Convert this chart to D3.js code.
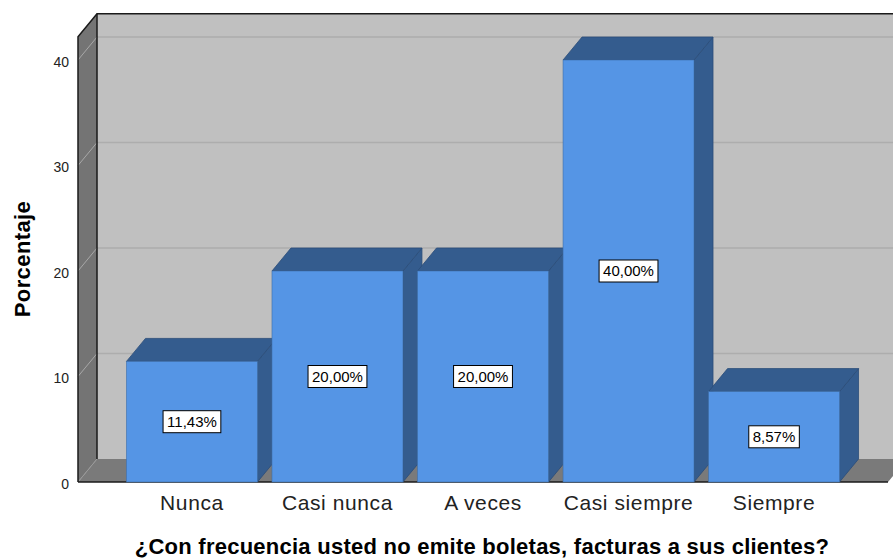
<!DOCTYPE html>
<html>
<head>
<meta charset="utf-8">
<script src="https://cdn.jsdelivr.net/npm/d3@7"></script>
<style>
  body { margin: 0; background: #fff; }
  svg { display: block; font-family: "Liberation Sans", Arial, sans-serif; }
</style>
</head>
<body>
<div id="chart"></div>
<script>
const categories = ['Nunca', 'Casi nunca', 'A veces', 'Casi siempre', 'Siempre'];
const porcentajes = [11.43, 20.00, 20.00, 40.00, 8.57];
const etiquetas = ['11,43%', '20,00%', '20,00%', '40,00%', '8,57%'];
const yTicks = [0, 10, 20, 30, 40];
const yMax = 42.2;
const xTitle = '¿Con frecuencia usted no emite boletas, facturas a sus clientes?';
const yTitle = 'Porcentaje';

const width = 893, height = 559;
const dx = 19, dy = -23; // 3D depth offset

const svg = d3.select('#chart').append('svg')
  .attr('width', width)
  .attr('height', height);

const x = d3.scaleBand()
  .domain(categories)
  .range([78, 888])
  .paddingInner(0.1)
  .paddingOuter(0.333);

const y = d3.scaleLinear()
  .domain([0, 40])
  .range([482, 60]);

const xLeft = x.range()[0], xRight = x.range()[1];
const yBase = y(0), yTop = y(yMax);

// back wall
svg.append('rect')
  .attr('x', xLeft + dx).attr('y', yTop + dy)
  .attr('width', xRight - xLeft).attr('height', yBase - yTop)
  .attr('fill', '#c0c0c0');

// left wall
svg.append('path')
  .attr('d', `M${xLeft},${yTop} L${xLeft + dx},${yTop + dy} L${xLeft + dx},${yBase + dy} L${xLeft},${yBase} Z`)
  .attr('fill', '#747474');

// floor
svg.append('path')
  .attr('d', `M${xLeft},${yBase} L${xLeft + dx},${yBase + dy} L${xRight + dx},${yBase + dy} L${xRight},${yBase} Z`)
  .attr('fill', '#7a7a7a');

// gridlines
const grid = yTicks.filter(d => d > 0);
svg.selectAll('.grid-back')
  .data(grid)
  .enter().append('line')
  .attr('x1', xLeft + dx).attr('x2', xRight + dx)
  .attr('y1', d => y(d) + dy).attr('y2', d => y(d) + dy)
  .attr('stroke', '#adadad')
  .attr('stroke-width', 1.5);

svg.selectAll('.grid-side')
  .data(grid)
  .enter().append('line')
  .attr('x1', xLeft).attr('x2', xLeft + dx)
  .attr('y1', d => y(d)).attr('y2', d => y(d) + dy)
  .attr('stroke', '#a8a8a8')
  .attr('stroke-width', 1);

// floor diagonal at the left
svg.append('line')
  .attr('x1', xLeft).attr('y1', yBase)
  .attr('x2', xLeft + dx).attr('y2', yBase + dy)
  .attr('stroke', '#9a9a9a')
  .attr('stroke-width', 1);

// frame lines
svg.append('path')
  .attr('d', `M${xLeft},${yBase} L${xLeft},${yTop} L${xLeft + dx},${yTop + dy} L${xRight + dx},${yTop + dy}`)
  .attr('fill', 'none')
  .attr('stroke', '#1a1a1a')
  .attr('stroke-width', 1.5);
svg.append('line')
  .attr('x1', xLeft + dx).attr('x2', xLeft + dx)
  .attr('y1', yTop + dy).attr('y2', yBase + dy)
  .attr('stroke', '#1a1a1a')
  .attr('stroke-width', 1.5);
svg.append('line')
  .attr('x1', xLeft).attr('x2', xRight)
  .attr('y1', yBase).attr('y2', yBase)
  .attr('stroke', '#1a1a1a')
  .attr('stroke-width', 1.5);

// bars
const data = categories.map((c, i) => ({ category: c, value: porcentajes[i], label: etiquetas[i] }));

const bars = svg.selectAll('.bar')
  .data(data)
  .enter().append('g')
  .attr('class', 'bar');

const bw = x.bandwidth();

bars.append('path')
  .attr('d', d => {
    const bx = x(d.category), by = y(d.value);
    return `M${bx + bw},${by} L${bx + bw + dx},${by + dy} L${bx + bw + dx},${yBase + dy} L${bx + bw},${yBase} Z`;
  })
  .attr('fill', '#345c8e')
  .attr('stroke', '#2b4d78')
  .attr('stroke-width', 0.8);

bars.append('path')
  .attr('d', d => {
    const bx = x(d.category), by = y(d.value);
    return `M${bx},${by} L${bx + dx},${by + dy} L${bx + bw + dx},${by + dy} L${bx + bw},${by} Z`;
  })
  .attr('fill', '#345c8e')
  .attr('stroke', '#2b4d78')
  .attr('stroke-width', 0.8);

bars.append('rect')
  .attr('x', d => x(d.category))
  .attr('y', d => y(d.value))
  .attr('width', bw)
  .attr('height', d => yBase - y(d.value))
  .attr('fill', '#5595e5')
  .attr('stroke', '#3f6fa8')
  .attr('stroke-width', 0.6);

// value labels
bars.each(function (d) {
  const g = d3.select(this);
  const cx = x(d.category) + bw / 2;
  const cy = (y(d.value) + yBase) / 2;
  const t = g.append('text')
    .attr('x', cx)
    .attr('y', cy)
    .attr('dy', '0.35em')
    .attr('text-anchor', 'middle')
    .style('font-size', '15px')
    .style('fill', '#000')
    .text(d.label);
  const w = t.node().getComputedTextLength();
  g.insert('rect', 'text')
    .attr('x', cx - w / 2 - 4)
    .attr('y', cy - 11)
    .attr('width', w + 8)
    .attr('height', 22)
    .attr('fill', '#fff')
    .attr('stroke', '#000')
    .attr('stroke-width', 1);
});

// y tick labels
svg.selectAll('.ytick')
  .data(yTicks)
  .enter().append('text')
  .attr('x', 69)
  .attr('y', d => y(d) + 2)
  .attr('dy', '0.35em')
  .attr('text-anchor', 'end')
  .style('font-size', '14px')
  .style('fill', '#222')
  .text(d => d);

// x tick labels
svg.selectAll('.xtick')
  .data(categories)
  .enter().append('text')
  .attr('x', d => x(d) + bw / 2)
  .attr('y', 503)
  .attr('dy', '0.35em')
  .attr('text-anchor', 'middle')
  .style('font-size', '21px')
  .style('letter-spacing', '0.6px')
  .style('fill', '#222')
  .text(d => d);

// axis titles
svg.append('text')
  .attr('x', 482)
  .attr('y', 546)
  .attr('dy', '0.35em')
  .attr('text-anchor', 'middle')
  .style('font-size', '22px')
  .style('letter-spacing', '0.25px')
  .style('font-weight', 'bold')
  .style('fill', '#000')
  .text(xTitle);

svg.append('text')
  .attr('transform', 'translate(22,259) rotate(-90)')
  .attr('dy', '0.35em')
  .attr('text-anchor', 'middle')
  .style('font-size', '22px')
  .style('letter-spacing', '0.4px')
  .style('font-weight', 'bold')
  .style('fill', '#000')
  .text(yTitle);
</script>
</body>
</html>
